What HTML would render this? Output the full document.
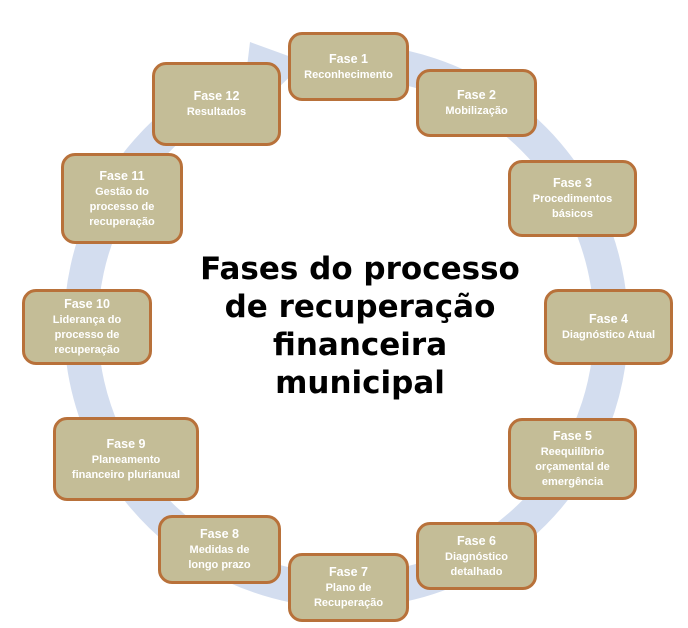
<!DOCTYPE html>
<html><head><meta charset="utf-8"><style>
body{margin:0;width:688px;height:628px;background:#fff;position:relative;overflow:hidden;font-family:"Liberation Sans",sans-serif}
.b{position:absolute;box-sizing:border-box;background:#c4bd97;border:3px solid #b8713a;border-radius:14px;color:#fff;font-weight:bold;font-size:11px;line-height:15px;text-align:center;display:flex;flex-direction:column;justify-content:center;align-items:center}
.b b{font-size:12.5px;line-height:17px}
.t{position:absolute;left:155px;top:250px;width:410px;text-align:center;font-family:"DejaVu Sans",sans-serif;font-weight:bold;font-size:31px;line-height:38px;color:#000}
</style></head><body>
<svg width="688" height="628" style="position:absolute;left:0;top:0">
<path d="M 306 64 A 265 265 0 1 1 258 76" fill="none" stroke="#d3ddef" stroke-width="34"/>
<polygon points="250,42 305,62 240,125" fill="#d3ddef"/>
</svg>
<div class="b" style="left:288px;top:32px;width:121px;height:69px"><b>Fase 1</b>Reconhecimento</div>
<div class="b" style="left:416px;top:69px;width:121px;height:68px"><b>Fase 2</b>Mobilização</div>
<div class="b" style="left:508px;top:160px;width:129px;height:77px"><b>Fase 3</b>Procedimentos<br>básicos</div>
<div class="b" style="left:544px;top:289px;width:129px;height:76px"><b>Fase 4</b>Diagnóstico Atual</div>
<div class="b" style="left:508px;top:418px;width:129px;height:82px"><b>Fase 5</b>Reequilíbrio<br>orçamental de<br>emergência</div>
<div class="b" style="left:416px;top:522px;width:121px;height:68px"><b>Fase 6</b>Diagnóstico<br>detalhado</div>
<div class="b" style="left:288px;top:553px;width:121px;height:69px"><b>Fase 7</b>Plano de<br>Recuperação</div>
<div class="b" style="left:158px;top:515px;width:123px;height:69px"><b>Fase 8</b>Medidas de<br>longo prazo</div>
<div class="b" style="left:53px;top:417px;width:146px;height:84px"><b>Fase 9</b>Planeamento<br>financeiro plurianual</div>
<div class="b" style="left:22px;top:289px;width:130px;height:76px"><b>Fase 10</b>Liderança do<br>processo de<br>recuperação</div>
<div class="b" style="left:61px;top:153px;width:122px;height:91px"><b>Fase 11</b>Gestão do<br>processo de<br>recuperação</div>
<div class="b" style="left:152px;top:62px;width:129px;height:84px"><b>Fase 12</b>Resultados</div>
<div class="t">Fases do processo<br>de recuperação<br>financeira<br>municipal</div>
</body></html>
